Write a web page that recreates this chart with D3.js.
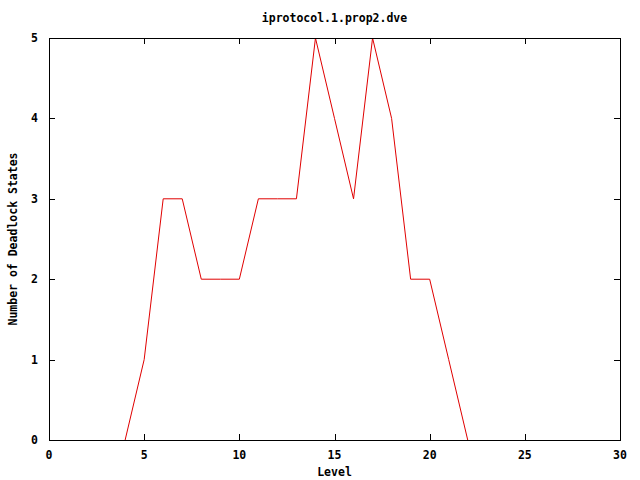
<!DOCTYPE html>
<html>
<head>
<meta charset="utf-8">
<script src="https://cdn.jsdelivr.net/npm/d3@7"></script>
<style>
  body { margin: 0; background: #fff; }
  text { font-family: "DejaVu Sans Mono", "Liberation Mono", monospace; font-weight: bold; font-size: 11.5px; fill: #000; }
</style>
</head>
<body>
<svg class="svg"></svg>
<script>
// data
const levels = [4, 5, 6, 7, 8, 9, 10, 11, 12, 13, 14, 15, 16, 17, 18, 19, 20, 21, 22];
const deadlocks = [0, 1, 3, 3, 2, 2, 2, 3, 3, 3, 5, 4, 3, 5, 4, 2, 2, 1, 0];
const xTicks = [0, 5, 10, 15, 20, 25, 30];
const yTicks = [0, 1, 2, 3, 4, 5];

const width = 640;
const height = 480;
const margin = { top: 38, right: 20, bottom: 40, left: 49 };

const svg = d3.select('.svg')
  .attr('width', width)
  .attr('height', height);

const x = d3.scaleLinear().domain([0, 30]).range([margin.left, width - margin.right]);
const y = d3.scaleLinear().domain([0, 5]).range([height - margin.bottom, margin.top]);

const tickLen = 6;

// ticks on all four sides, pointing inward
const g = svg.append('g').attr('stroke', '#000').attr('stroke-width', 1);
xTicks.forEach(t => {
  const px = Math.round(x(t)) + 0.5;
  g.append('line').attr('x1', px).attr('x2', px)
    .attr('y1', y(0)).attr('y2', y(0) - tickLen);
  g.append('line').attr('x1', px).attr('x2', px)
    .attr('y1', y(5)).attr('y2', y(5) + tickLen);
});
yTicks.forEach(t => {
  const py = Math.round(y(t)) + 0.5;
  g.append('line').attr('x1', x(0)).attr('x2', x(0) + tickLen)
    .attr('y1', py).attr('y2', py);
  g.append('line').attr('x1', x(30)).attr('x2', x(30) - tickLen)
    .attr('y1', py).attr('y2', py);
});

// tick labels
svg.append('g').selectAll('text')
  .data(xTicks)
  .join('text')
  .attr('x', d => x(d))
  .attr('y', y(0) + 19)
  .attr('text-anchor', 'middle')
  .text(d => d);

svg.append('g').selectAll('text')
  .data(yTicks)
  .join('text')
  .attr('x', x(0) - 11)
  .attr('y', d => y(d) + 4)
  .attr('text-anchor', 'end')
  .text(d => d);

// the series
const line = d3.line()
  .x((d, i) => x(levels[i]))
  .y(d => y(d));

svg.append('path')
  .datum(deadlocks)
  .attr('fill', 'none')
  .attr('stroke', '#e00000')
  .attr('stroke-width', 1)
  .attr('d', line);

// border
svg.append('rect')
  .attr('x', Math.round(x(0)) + 0.5)
  .attr('y', Math.round(y(5)) + 0.5)
  .attr('width', Math.round(x(30)) - Math.round(x(0)))
  .attr('height', Math.round(y(0)) - Math.round(y(5)))
  .attr('fill', 'none')
  .attr('stroke', '#000');

// titles
const cx = (x(0) + x(30)) / 2;
svg.append('text')
  .attr('x', cx)
  .attr('y', 22)
  .attr('text-anchor', 'middle')
  .text('iprotocol.1.prop2.dve');

svg.append('text')
  .attr('x', cx)
  .attr('y', 476)
  .attr('text-anchor', 'middle')
  .text('Level');

svg.append('text')
  .attr('transform', `translate(17,${(y(0) + y(5)) / 2}) rotate(-90)`)
  .attr('text-anchor', 'middle')
  .text('Number of Deadlock States');
</script>
</body>
</html>
